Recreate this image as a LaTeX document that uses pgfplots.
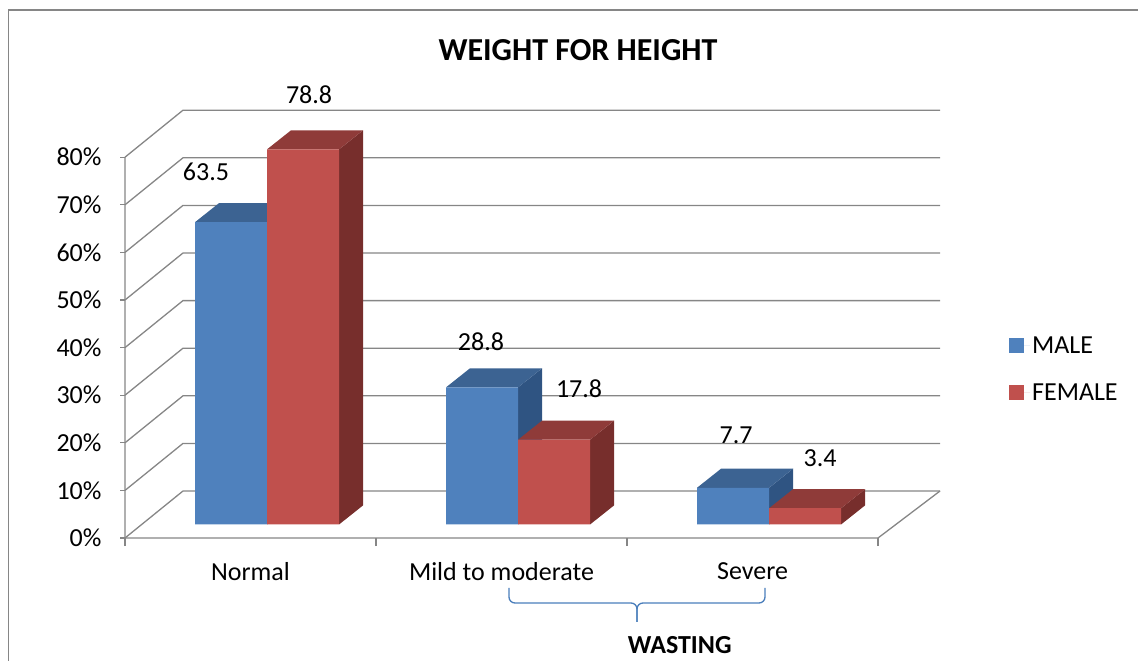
\documentclass[border=0pt]{standalone}
\usepackage{pgfplots}
\usepackage{pgfplotstable}
\pgfplotsset{compat=1.18}
\usepackage{fontspec}
\setmainfont{Carlito}

\definecolor{gridgray}{HTML}{868686}
\definecolor{maleF}{HTML}{4F81BD}
\definecolor{maleT}{HTML}{3C6392}
\definecolor{maleS}{HTML}{2F5482}
\definecolor{femF}{HTML}{C0504D}
\definecolor{femT}{HTML}{8F3B39}
\definecolor{femS}{HTML}{772E2C}
\definecolor{braceblue}{HTML}{4A7EBB}

\newcommand\lbl{\fontsize{26bp}{31bp}\selectfont}

% percentages per category, with the shift (bp) of each value label
\pgfplotstableread{
cat male female mlx mly flx fly
0 63.5 78.8 -37 41 -6 45.5
1 28.8 17.8 -13 36.5 13 41.5
2 7.7 3.4 -9 43.5 3 40.5
}\wfh

% oblique 3-D box, in axis units
\def\wallx{0.231}  \def\wally{9.87}   % depth of floor and side wall
\def\offx{0.066}   \def\offy{2.85}    % front face of the bars
\def\depx{0.0955}  \def\depy{4.0}     % depth of one bar
\def\bw{0.287}                        % bar width

% one 3-D bar: #1 left edge, #2 value, #3 front, #4 top, #5 side colour
\newcommand\drawbar[5]{%
  \pgfmathsetmacro\xa{#1+\offx}%
  \pgfmathsetmacro\xb{#1+\bw+\offx}%
  \pgfmathsetmacro\ya{\offy}%
  \pgfmathsetmacro\yb{#2+\offy}%
  \pgfmathsetmacro\xc{\xa+\depx}%
  \pgfmathsetmacro\xd{\xb+\depx}%
  \pgfmathsetmacro\yc{\ya+\depy}%
  \pgfmathsetmacro\yd{\yb+\depy}%
  \edef\temp{%
    \noexpand\addplot[forget plot,mark=none,draw=none,fill=#5] coordinates {(\xb,\ya) (\xd,\yc) (\xd,\yd) (\xb,\yb) (\xb,\ya)};
    \noexpand\addplot[forget plot,mark=none,draw=none,fill=#4] coordinates {(\xa,\yb) (\xb,\yb) (\xd,\yd) (\xc,\yd) (\xa,\yb)};
    \noexpand\addplot[forget plot,mark=none,draw=none,fill=#3] coordinates {(\xa,\ya) (\xb,\ya) (\xb,\yb) (\xa,\yb) (\xa,\ya)};
  }\temp
}
% value label above a bar: #1 left edge, #2 value, #3/#4 shift
\newcommand\drawlabel[4]{%
  \pgfmathsetmacro\xl{#1+\offx+0.5*\bw+0.5*\depx}%
  \pgfmathsetmacro\yl{#2+\offy+0.5*\depy}%
  \edef\temp{\noexpand\node[font=\noexpand\lbl,xshift=#3bp,yshift=#4bp] at (axis cs:\xl,\yl) {#2};}\temp
}

\begin{document}
\begin{tikzpicture}
\useasboundingbox (0,0) rectangle (1138bp,661bp);
% chart frame
\draw[gridgray, line width=1.3bp] (8.5bp,-20bp) -- (8.5bp,651bp) -- (1160bp,651bp);

\begin{axis}[
  at={(125bp,123bp)}, anchor=south west,
  x=251bp, y=4.76bp,
  xmin=0, xmax=3.231, ymin=0, ymax=90,
  clip=false,
  axis line style={draw=none},
  xtick={0.5,1.5,2.5},
  xticklabels={Normal,Mild to moderate,Severe},
  minor xtick={0,1,2,3},
  ytick={0,10,...,80},
  yticklabel={\pgfmathprintnumber{\tick}\%},
  /pgf/number format/assume math mode=true,
  xtick pos=bottom, ytick pos=left,
  tick align=outside,
  major tick length=5bp, minor tick length=8bp,
  tick style={gridgray, line width=1.3bp},
  major x tick style={draw=none},
  ticklabel style={font=\lbl},
  yticklabel style={xshift=-15bp},
  xticklabel style={yshift=-16bp},
  title={WEIGHT FOR HEIGHT},
  title style={font=\fontsize{32bp}{38bp}\selectfont\bfseries, at={(axis description cs:0.5586,1.125)}, anchor=center},
  xlabel={WASTING},
  xlabel style={font=\lbl\bfseries, at={(axis description cs:0.684,-0.25)}, anchor=center},
  legend style={draw=none, fill=none, at={(axis description cs:1.090,0.3945)}, anchor=west, font=\lbl, row sep=25bp, inner sep=0pt},
  legend cell align=left,
  legend image code/.code={\fill[#1] (0bp,-7.5bp) rectangle (15bp,7.5bp); \path (0bp,0bp) -- (21bp,0bp);},
]
% floor, side wall and back wall grid
\pgfplotsforeachungrouped \v in {0,10,20,30,40,50,60,70,80}{%
  \pgfmathsetmacro\yb{\v+\wally}%
  \pgfmathsetmacro\xe{3+\wallx+0.016}%
  \edef\temp{\noexpand\addplot[forget plot,mark=none,gridgray,line width=1.3bp] coordinates {(0,\v) (\wallx,\yb) (\xe,\yb)};}\temp
}
\addplot[forget plot,mark=none,gridgray,line width=1.3bp] coordinates {(0,80) (0,0) (3,0) (3.247,9.87)};

% bars
\pgfplotsforeachungrouped \i in {0,1,2}{%
  \pgfplotstablegetelem{\i}{male}\of\wfh \let\vm\pgfplotsretval
  \pgfplotstablegetelem{\i}{female}\of\wfh \let\vf\pgfplotsretval
  \pgfmathsetmacro\xm{\i+0.5-\bw}%
  \pgfmathsetmacro\xf{\i+0.5}%
  \drawbar{\xm}{\vm}{maleF}{maleT}{maleS}%
  \drawbar{\xf}{\vf}{femF}{femT}{femS}%
}
% value labels
\pgfplotsforeachungrouped \i in {0,1,2}{%
  \pgfplotstablegetelem{\i}{male}\of\wfh \let\vm\pgfplotsretval
  \pgfplotstablegetelem{\i}{female}\of\wfh \let\vf\pgfplotsretval
  \pgfplotstablegetelem{\i}{mlx}\of\wfh \let\mlx\pgfplotsretval
  \pgfplotstablegetelem{\i}{mly}\of\wfh \let\mly\pgfplotsretval
  \pgfplotstablegetelem{\i}{flx}\of\wfh \let\flx\pgfplotsretval
  \pgfplotstablegetelem{\i}{fly}\of\wfh \let\fly\pgfplotsretval
  \pgfmathsetmacro\xm{\i+0.5-\bw}%
  \pgfmathsetmacro\xf{\i+0.5}%
  \drawlabel{\xm}{\vm}{\mlx}{\mly}%
  \drawlabel{\xf}{\vf}{\flx}{\fly}%
}

\addlegendimage{fill=maleF, draw=none}
\addlegendentry{MALE}
\addlegendimage{fill=femF, draw=none}
\addlegendentry{FEMALE}
\end{axis}

% bracket grouping the wasting categories
\draw[braceblue, line width=1.3bp, rounded corners=6bp] (509bp,73bp) |- (637bp,58bp) -- (637bp,39bp);
\draw[braceblue, line width=1.3bp, rounded corners=6bp] (765bp,73bp) |- (637bp,58bp) -- (637bp,39bp);
\end{tikzpicture}
\end{document}
